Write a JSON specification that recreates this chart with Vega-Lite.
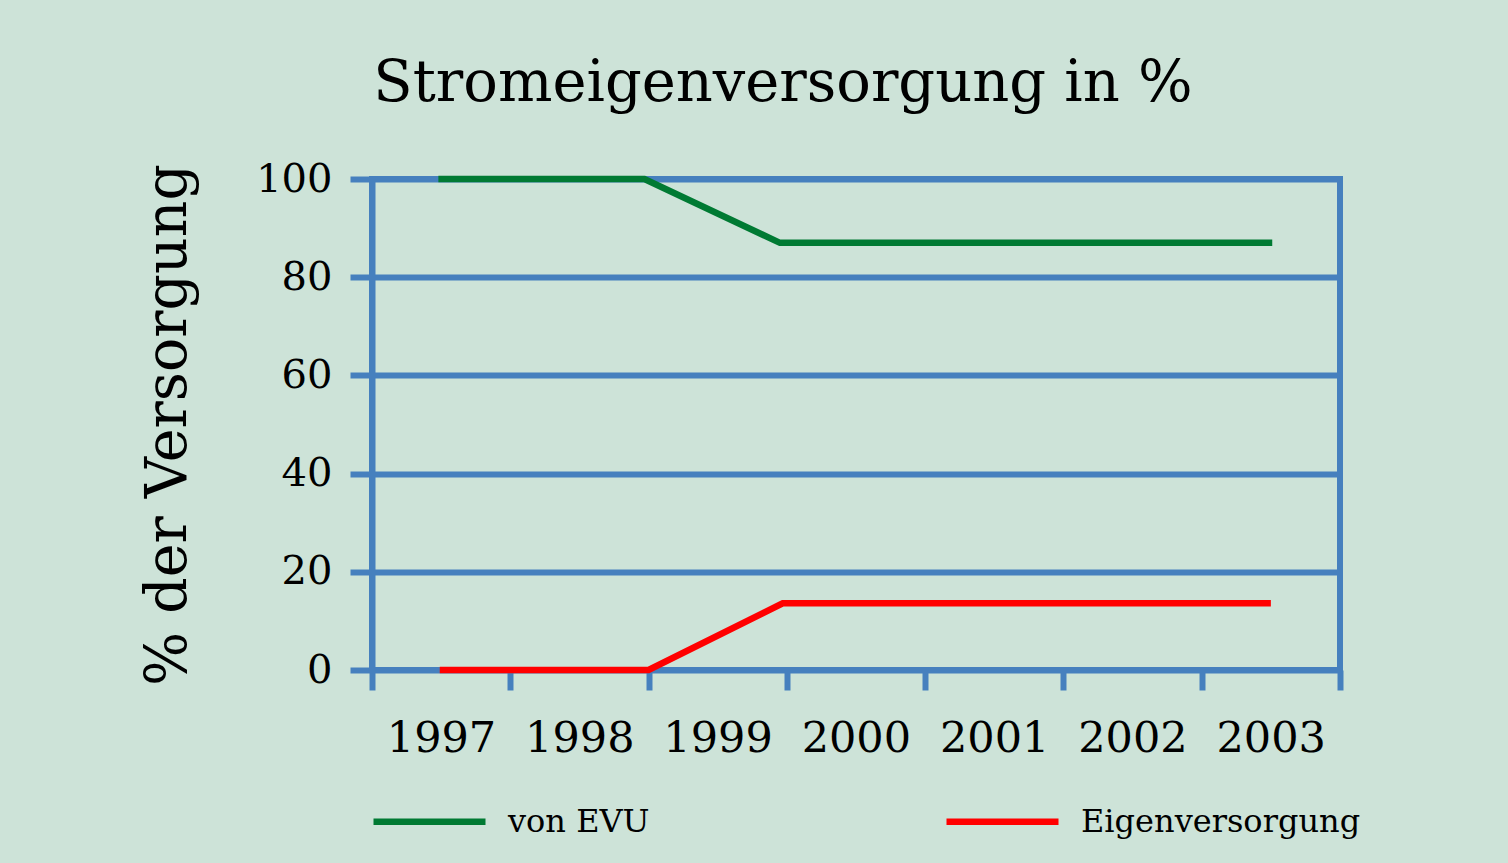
{
  "$schema": "https://vega.github.io/schema/vega-lite/v6.json",
  "width": 968,
  "height": 491,
  "autosize": "none",
  "padding": {"left": 372, "top": 179, "right": 168, "bottom": 193},
  "background": "#cde3d8",
  "title": {
    "text": "Stromeigenversorgung in %",
    "font": "DejaVu Serif",
    "fontSize": 57.5,
    "fontWeight": "normal",
    "color": "#000000",
    "anchor": "middle",
    "baseline": "alphabetic",
    "dx": -73,
    "offset": 1
  },
  "config": {
    "view": {"stroke": "#4680be", "strokeWidth": 6, "fill": null},
    "font": "DejaVu Serif"
  },
  "data": {
    "values": [
      {"jahr": 1996.98, "wert": 100, "serie": "von EVU"},
      {"jahr": 1998.47, "wert": 100, "serie": "von EVU"},
      {"jahr": 1999.45, "wert": 87, "serie": "von EVU"},
      {"jahr": 2003.01, "wert": 87, "serie": "von EVU"},
      {"jahr": 1996.99, "wert": 0, "serie": "Eigenversorgung"},
      {"jahr": 1998.5, "wert": 0, "serie": "Eigenversorgung"},
      {"jahr": 1999.47, "wert": 13.6, "serie": "Eigenversorgung"},
      {"jahr": 2003.0, "wert": 13.6, "serie": "Eigenversorgung"}
    ]
  },
  "mark": {"type": "line", "strokeWidth": 6.5, "clip": false},
  "encoding": {
    "x": {
      "field": "jahr",
      "type": "quantitative",
      "scale": {"domain": [1996.5, 2003.5], "nice": false, "zero": false},
      "axis": {
        "title": null,
        "values": [1996.5, 1997.5, 1998.5, 1999.5, 2000.5, 2001.5, 2002.5, 2003.5],
        "grid": false,
        "domain": false,
        "ticks": true,
        "tickColor": "#4680be",
        "tickWidth": 6,
        "tickSize": 20,
        "labelExpr": "datum.value < 2003 ? format(datum.value + 0.5, 'd') : ''",
        "labelOffset": 69,
        "labelFont": "DejaVu Serif",
        "labelFontSize": 43,
        "labelColor": "#000000",
        "labelPadding": 27,
        "labelFlush": false,
        "labelOverlap": false,
        "labelBound": false
      }
    },
    "y": {
      "field": "wert",
      "type": "quantitative",
      "scale": {"domain": [0, 100], "nice": false},
      "axis": {
        "values": [0, 20, 40, 60, 80, 100],
        "grid": true,
        "gridColor": "#4680be",
        "gridWidth": 6,
        "gridOpacity": 1,
        "domainColor": "#4680be",
        "domainWidth": 6,
        "tickColor": "#4680be",
        "tickWidth": 6,
        "tickSize": 22,
        "labelFont": "DejaVu Serif",
        "labelFontSize": 40,
        "labelColor": "#000000",
        "labelPadding": 18,
        "labelFlush": false,
        "labelOverlap": false,
        "title": "% der Versorgung",
        "titleFont": "DejaVu Serif",
        "titleFontSize": 57,
        "titleFontWeight": "normal",
        "titleColor": "#000000",
        "titleAngle": -90,
        "titleX": -187,
        "titleY": 245.5,
        "titleAlign": "center",
        "titleBaseline": "alphabetic"
      }
    },
    "color": {
      "field": "serie",
      "type": "nominal",
      "scale": {"domain": ["von EVU", "Eigenversorgung"], "range": ["#007a33", "#ff0000"]},
      "legend": {
        "orient": "none",
        "legendX": -2,
        "legendY": 583,
        "direction": "horizontal",
        "title": null,
        "padding": 0,
        "symbolType": "stroke",
        "symbolSize": 12544,
        "symbolStrokeWidth": 6.5,
        "labelFont": "DejaVu Serif",
        "labelFontSize": 32,
        "labelColor": "#000000",
        "labelOffset": 19,
        "labelLimit": 500,
        "columnPadding": 145,
        "gridAlign": "all"
      }
    }
  }
}
